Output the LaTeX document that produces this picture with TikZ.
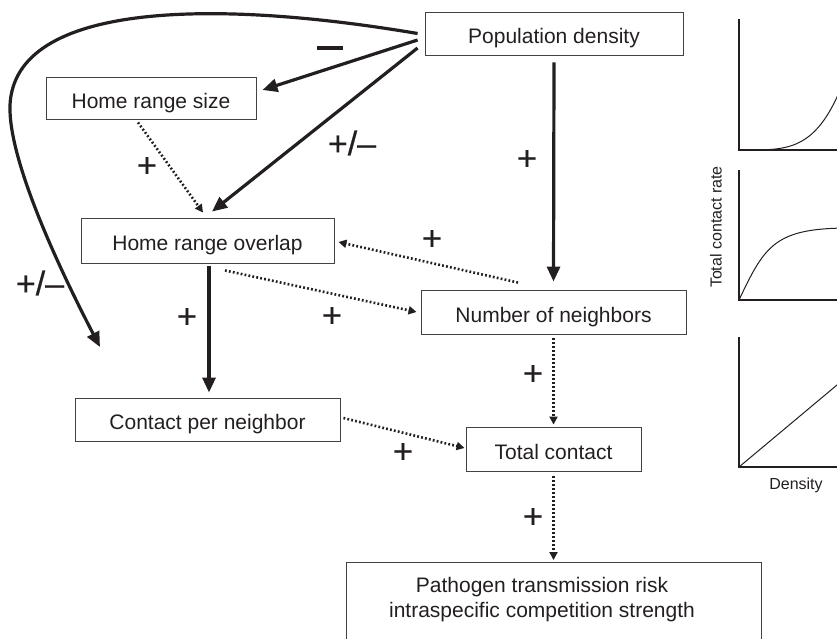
\documentclass[tikz,border=0pt]{standalone}
\usepackage{fontspec}
\setmainfont{Liberation Sans}
\newfontface\signfont{Liberation Sans}[FakeBold=0.6]
\usetikzlibrary{arrows.meta,calc}
\definecolor{ink}{HTML}{231F20}
\tikzset{
  box/.style={draw=ink!85, line width=0.9pt, inner sep=0pt, text=ink,
    text height=20pt, text depth=0pt,
    font=\fontsize{21}{25}\selectfont},
  solidarr/.style={draw=ink, line width=3.2pt, -{Triangle[length=15pt,width=13pt]}},
  dotarr/.style={draw=ink, line width=2.6pt, dash pattern=on 1.8pt off 2.2pt,
    -{Triangle[length=8pt,width=8pt]}},
  sign/.style={text=ink, font=\signfont\fontsize{34}{34}\selectfont, inner sep=0pt},
  axis/.style={draw=ink, line width=1.2pt},
  curve/.style={draw=ink, line width=1pt},
  small/.style={text=ink, font=\fontsize{16}{19}\selectfont, inner sep=0pt}
}
\begin{document}
\begin{tikzpicture}[x=1pt,y=-1pt]
\useasboundingbox (0,0) rectangle (837,638);
\clip (0,0) rectangle (837,638);

% boxes
\node[box, minimum width=258pt, minimum height=43pt] (pop) at (554,33.5) {Population density};
\node[box, minimum width=210pt, minimum height=42pt] (hrs) at (151,98) {Home range size};
\node[box, minimum width=253pt, minimum height=45pt] (hro) at (207.5,240.5) {Home range overlap};
\node[box, minimum width=265pt, minimum height=44pt] (non) at (553.5,312) {Number of neighbors};
\node[box, minimum width=265pt, minimum height=43pt] (cpn) at (207.5,419.5) {Contact per neighbor};
\node[box, minimum width=175pt, minimum height=44pt] (tc) at (553.5,449) {Total contact};
\node[box, minimum width=415pt, minimum height=120pt, anchor=north] (risk) at (553.5,562) {};
\node[text=ink, font=\fontsize{21}{25}\selectfont, align=center, inner sep=0pt] (risktext) at (542,599.5)
  {Pathogen transmission risk\\intraspecific competition strength};

% free end of the big curve
\coordinate (cend) at (100,347);

% solid arrows
\draw[solidarr] ([xshift=-7pt]pop.west) .. controls (220,0) and (15,0) .. (10,105)
  .. controls (8,160) and (60,270) .. (cend);
\draw[solidarr] ([xshift=-7pt,yshift=-6.5pt]pop.west) -- ([xshift=6pt,yshift=8pt]hrs.east);
\draw[solidarr] ([xshift=-7pt,yshift=-14.5pt]pop.west) -- ([xshift=4.5pt,yshift=6pt]hro.north);
\draw[solidarr] ([yshift=-7pt]pop.south) -- ([yshift=8pt]non.north);
\draw[solidarr] ([xshift=1.5pt,yshift=-3pt]hro.south) -- ([xshift=1.5pt,yshift=5pt]cpn.north);

% dotted arrows
\draw[dotarr] ([xshift=-13pt,yshift=-3pt]hrs.south) -- ([xshift=-4.5pt,yshift=5pt]hro.north);
\draw[dotarr] ([xshift=-35.5pt,yshift=7pt]non.north) -- ([xshift=4pt,yshift=-1.5pt]hro.east);
\draw[dotarr] ([xshift=17.5pt,yshift=-7pt]hro.south) -- ([xshift=-4pt]non.west);
\draw[dotarr] ([xshift=3pt,yshift=1.5pt]cpn.east) -- ([xshift=-1pt,yshift=1pt]tc.west);
\draw[dotarr] ([yshift=-4pt]non.south) -- ([yshift=2pt]tc.north);
\draw[dotarr] ([yshift=-5pt]tc.south) -- ([yshift=2pt]risk.north);

% signs
\node[sign] (s1) at (330,52) {\rule[0.26em]{0.76em}{0.12em}};
\node[sign] (s2) at (352,143) {+/–};
\node[sign] (s3) at (147,167) {+};
\node[sign] (s4) at (40,283) {+/–};
\node[sign] (s5) at (187,318) {+};
\node[sign] (s6) at (332,317) {+};
\node[sign] (s7) at (432,240) {+};
\node[sign] (s8) at (527,160) {+};
\node[sign] (s9) at (533,375) {+};
\node[sign] (s10) at (403,453) {+};
\node[sign] (s11) at (533,518) {+};

% small graphs
\draw[axis] (739,19) -- (739,150) -- (850,150);
\draw[curve, domain=0:105, samples=60, smooth] plot ({739+\x},{150-53*(\x/98)^4});
\draw[axis] (739,170) -- (739,300) -- (850,300);
\draw[curve] (739,300) .. controls (765,245) and (775,228) .. (850,228);
\draw[axis] (739,337) -- (739,467) -- (850,467);
\draw[curve] (739,467) -- (850,374.1);
\node[small, rotate=90] (ylab) at (716,227) {Total contact rate};
\node[small] (xlab) at (796,485) {Density};
\end{tikzpicture}
\end{document}
